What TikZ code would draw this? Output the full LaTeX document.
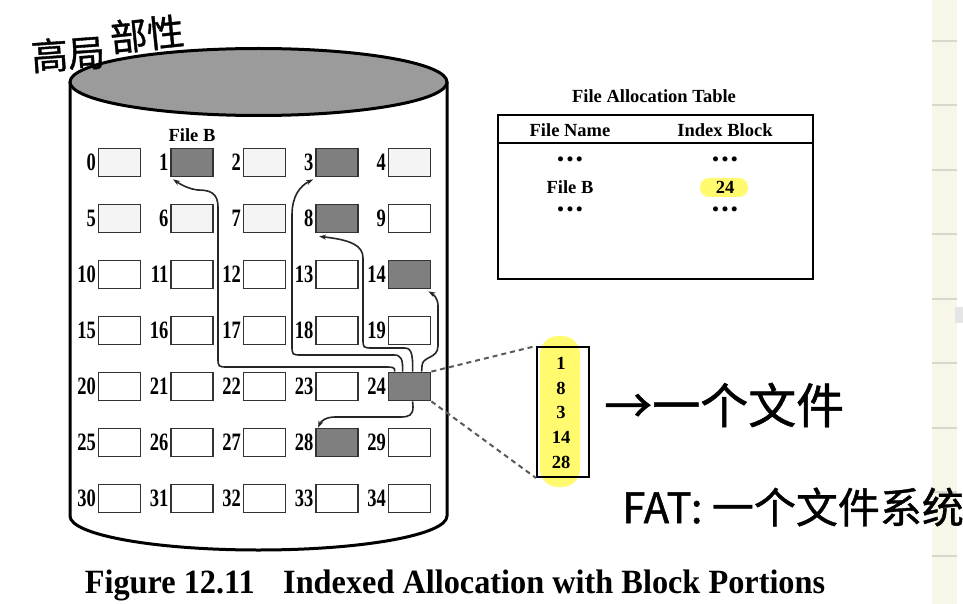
\documentclass[tikz,border=0pt]{standalone}
\usepackage{fontspec}
\setmainfont{Liberation Serif}
\newfontfamily\condfont[FakeStretch=0.74]{Liberation Serif}
\newfontfamily\capfont[FakeStretch=0.95]{Liberation Serif}
\newfontfamily\cjk[FakeBold=1]{Noto Sans CJK SC}
\usetikzlibrary{calc,arrows.meta}
\definecolor{dgray}{HTML}{7F7F7F}
\definecolor{topgray}{HTML}{9B9B9B}
\definecolor{lgray}{HTML}{F4F4F4}
\definecolor{hl}{RGB}{255,250,110}
\definecolor{beige}{HTML}{F8F5E9}
\definecolor{ruleline}{HTML}{D9D6CC}
\begin{document}
\begin{tikzpicture}[x=1pt,y=-1pt,
  blk/.style={draw=black!80, line width=1.8pt, minimum width=42pt, minimum height=28pt, inner sep=0pt, fill=white},
  lbl/.style={font=\condfont\fontsize{25}{25}\selectfont\bfseries, anchor=east, inner sep=0pt},
  txt/.style={font=\fontsize{18.5}{18.5}\selectfont\bfseries, inner sep=0pt},
  conn/.style={draw=black!85, line width=1.6pt, -{Stealth[length=7pt,width=5pt]}},
  dashc/.style={draw=black!65, line width=2pt, dash pattern=on 5pt off 4pt},
  hand/.style={inner sep=0pt},
  fb0/.style={fill=lgray}, fb2/.style={fill=lgray}, fb4/.style={fill=lgray},
  fb5/.style={fill=lgray}, fb6/.style={fill=lgray}, fb7/.style={fill=lgray},
  fb1/.style={fill=dgray}, fb3/.style={fill=dgray}, fb8/.style={fill=dgray},
  fb14/.style={fill=dgray}, fb24/.style={fill=dgray}, fb28/.style={fill=dgray}]
\useasboundingbox (0,0) rectangle (963,604);
\fill[white] (0,0) rectangle (963,604);

% right notebook strip
\fill[beige] (932,0) rectangle (957,604);
\foreach \yy in {41,105,170,234,299,363,428,492,556}
  \draw[ruleline, line width=1.5pt] (932,\yy) -- (957,\yy);
\fill[black!10] (955,307) rectangle (963,323);

% cylinder
\draw[line width=3pt, fill=white] (70,82) -- (70,516)
  arc[start angle=180, end angle=360, x radius=188.5pt, y radius=34pt] -- (447,82);
\draw[line width=3pt, fill=topgray] (258.5,82) ellipse[x radius=188.5pt, y radius=33.5pt];

% blocks
\foreach \r in {0,...,6} {
  \foreach \c in {0,...,4} {
    \pgfmathtruncatemacro\n{5*\r+\c}
    \node[blk, fb\n/.try] (b\n) at ({119.5+72.5*\c}, {162.5+56*\r}) {};
    \node[lbl] (l\n) at ($(b\n.west)+(-1.5,0)$) {\n};
  }
}
\node[txt] (fileb) at ($(b1.north)+(0,-12)$) {File B};

% connectors from index block 24
\draw[conn] ($(b24.north west)+(7,0)$) .. controls (395.5,367) and (392,367) .. (386,367)
  -- (228,367) .. controls (218,367) .. (218,357) -- (218,207)
  .. controls (218,193) and (210,190) .. (198,190)
  .. controls (188,189) and (180,184) .. ($(b1.south west)+(3,2)$);
\draw[conn] ($(b24.north west)+(15,0)$) .. controls (403,359) and (401,355) .. (394,355)
  -- (302,355) .. controls (292,355) .. (292,345) -- (292,215)
  .. controls (292,196) and (300,186) .. ($(b3.south west)+(-2,2)$);
\draw[conn] ($(b24.north west)+(25,0)$) .. controls (413,352) and (411,348) .. (404,348)
  -- (373,348) .. controls (363,348) .. (363,338) -- (363,258)
  .. controls (363,246) and (352,240) .. ($(b8.south west)+(4,3)$);
\draw[conn] ($(b24.north west)+(34,0)$) -- (422,366)
  .. controls (422,356) and (438,359) .. (438,346) -- (438,306)
  .. controls (438,298) and (433,294) .. ($(b14.south east)+(-3,2)$);
\draw[conn] ($(b24.south west)+(25,0)$) -- (413,407)
  .. controls (413,415) and (409,417) .. (401,417) -- (335,417)
  .. controls (326,417) and (321,421) .. ($(b28.north west)+(3,0)$);

% index block
\fill[hl, rounded corners=18pt] (540,336) rectangle (580,487);
\node[draw, line width=2pt, minimum width=52pt, minimum height=130pt, inner sep=0pt, anchor=north west] (idx) at (536,346) {};
\foreach \v/\yy in {1/363,8/388,3/412,14/437,28/462}
  \node[txt] (i\v) at (561,\yy) {\v};
\draw[dashc] (b24.north east) -- (idx.north west);
\draw[dashc] (b24.south east) -- (idx.south west);

% file allocation table
\node[txt] (fattitle) at (654,96) {File Allocation Table};
\node[draw, line width=1.8pt, minimum width=315pt, minimum height=164pt, inner sep=0pt, anchor=north west] (fat) at (497,114) {};
\draw[line width=1.8pt] ($(fat.north west)+(0,29)$) -- ($(fat.north east)+(0,29)$);
\node[txt] (h1) at (570,130) {File Name};
\node[txt] (h2) at (725,130) {Index Block};
\node[txt] (d1) at (570,161) {•\hspace{3pt}•\hspace{3pt}•};
\node[txt] (d2) at (725,161) {•\hspace{3pt}•\hspace{3pt}•};
\node[txt] (fb) at (570,187) {File B};
\fill[hl, rounded corners=9pt] (700,178) rectangle (748,197);
\node[txt] (n24) at (725,187) {24};
\node[txt] (d3) at (570,211) {•\hspace{3pt}•\hspace{3pt}•};
\node[txt] (d4) at (725,211) {•\hspace{3pt}•\hspace{3pt}•};

% caption
\node[font=\capfont\fontsize{34}{34}\selectfont\bfseries, anchor=base, inner sep=0pt] (cap) at (455,593)
  {Figure 12.11\hspace{0.6em} Indexed Allocation with Block Portions};

% handwritten notes
\node[hand, font=\cjk\fontsize{37}{37}\selectfont, rotate=4] (hw1a) at (68,54) {高局};
\node[hand, font=\cjk\fontsize{37}{37}\selectfont, rotate=6] (hw1b) at (147,34) {部性};
\node[hand, font=\cjk\fontsize{48}{48}\selectfont, anchor=west] (hw2) at (604,405) {→一个文件};
\node[hand, font=\cjk\fontsize{42}{42}\selectfont, anchor=west] (hw3) at (622,507) {FAT: 一个文件系统};
\end{tikzpicture}
\end{document}
